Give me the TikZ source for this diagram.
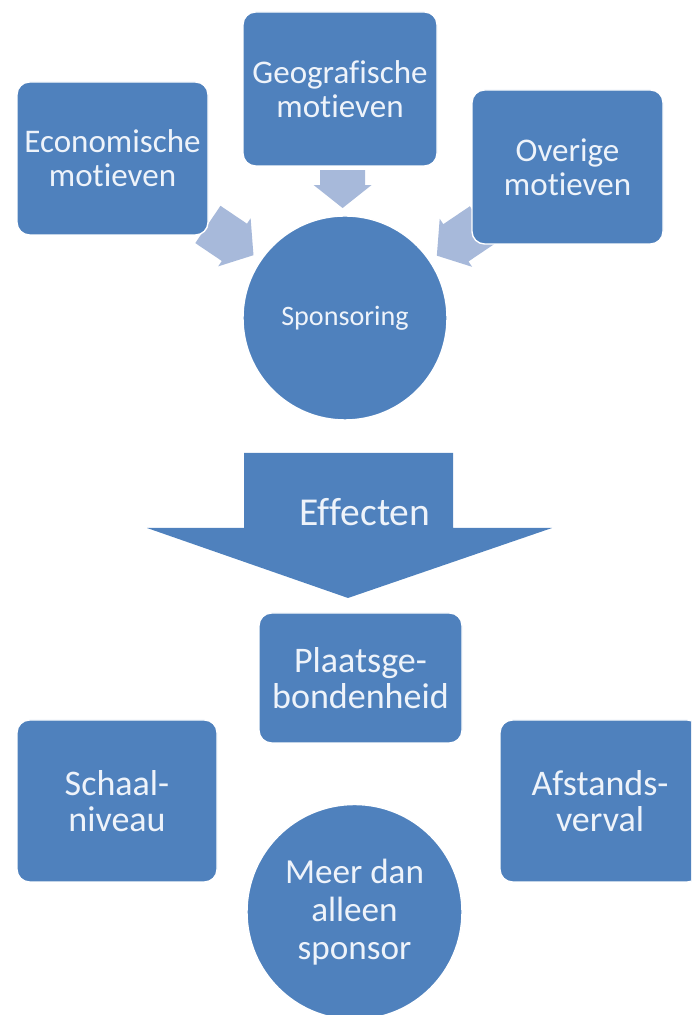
\documentclass[tikz,border=0pt]{standalone}
\usepackage{fontspec}
\setmainfont{Carlito}[Ligatures=NoCommon]
\usepackage{tikz}
\usetikzlibrary{calc,backgrounds}

\definecolor{boxblue}{RGB}{79,129,189}
\definecolor{paleblue}{RGB}{167,185,218}
\definecolor{txtwhite}{RGB}{238,243,250}

\tikzset{
  motief/.style={rectangle, rounded corners=0.25cm, fill=boxblue, draw=white,
    line width=0.8pt, text=txtwhite, align=center, inner sep=0pt,
    font=\fontsize{18.8}{19.5}\selectfont},
  effect/.style={motief, font=\fontsize{20.5}{20.5}\selectfont},
  rondje/.style={circle, fill=boxblue, draw=white, line width=0.8pt,
    text=txtwhite, align=center, inner sep=0pt},
  pics/motpijl/.style={code={
    \fill[paleblue] (0,0) -- (-0.46,0.58) -- (-0.46,0.45) -- (-#1,0.45)
      -- (-#1,-0.45) -- (-0.46,-0.45) -- (-0.46,-0.58) -- cycle;}}
}

\begin{document}
\begin{tikzpicture}
  \useasboundingbox (0,0) rectangle (13.82,20.3);
  \clip (0,0) rectangle (13.82,20.3);

  % motieven
  \node[motief, minimum width=3.82cm, minimum height=3.06cm] (eco) at (2.25,17.13) {Economische\\motieven};
  \node[motief, minimum width=3.88cm, minimum height=3.08cm] (geo) at (6.8,18.52) {Geografische\\motieven};
  \node[motief, minimum width=3.82cm, minimum height=3.08cm] (ovr) at (11.35,16.96) {Overige\\motieven};
  \node[rondje, minimum size=4.08cm, font=\fontsize{16}{18}\selectfont] (spons) at (6.9,13.94) {Sponsoring};

  \begin{scope}[on background layer]
    \pic[rotate=-34] at ($(spons.center)!2.22cm!(eco.center)$) {motpijl=1.1};
    \pic[rotate=-90] at ($(spons.center)!2.2cm!(geo.center)$) {motpijl=0.76};
    \pic[rotate=-146] at ($(spons.center)!2.22cm!(ovr.center)$) {motpijl=1.1};
  \end{scope}

  % grote pijl
  \fill[boxblue] (4.88,11.24) -- (9.06,11.24) -- (9.06,9.74) -- (11.04,9.74)
    -- (6.96,8.34) -- (2.94,9.74) -- (4.88,9.74) -- cycle;
  \node[text=txtwhite, font=\fontsize{22.5}{24}\selectfont] (effecten) at (7.3,10.06) {Effecten};

  % effecten
  \node[effect, minimum width=4.06cm, minimum height=2.6cm] (plaats) at (7.21,6.74) {Plaatsge-\\bondenheid};
  \node[effect, minimum width=4.0cm, minimum height=3.24cm] (schaal) at (2.34,4.28) {Schaal-\\niveau};
  \node[effect, minimum width=4.0cm, minimum height=3.24cm] (afst) at (12.0,4.28) {Afstands-\\verval};
  \node[rondje, minimum size=4.3cm, font=\fontsize{20}{21.5}\selectfont] (meer) at (7.09,2.06) {Meer dan\\alleen\\sponsor};
\end{tikzpicture}
\end{document}
